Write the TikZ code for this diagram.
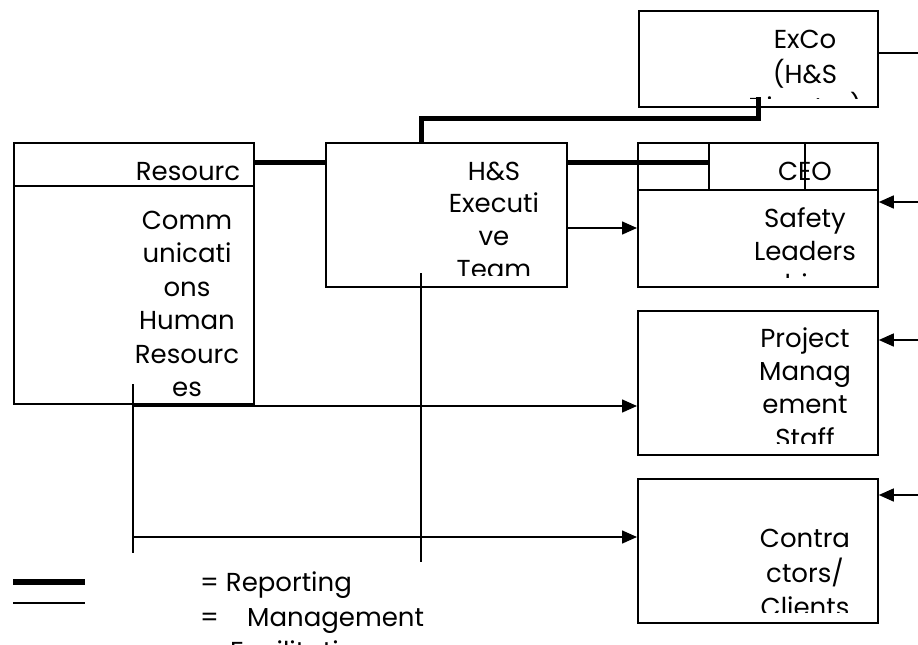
\documentclass[tikz,border=0pt]{standalone}
\usepackage{fontspec}
\setmainfont{Poppins}
\usetikzlibrary{arrows.meta}
\begin{document}
\begin{tikzpicture}[x=1pt,y=-1pt,
  box/.style={draw, line width=1.8pt, inner sep=0pt, anchor=north west},
  rule/.style={line width=1.8pt},
  txt/.style={inner sep=0pt, align=center, anchor=north},
  word/.style={inner sep=0pt, anchor=base},
  legend/.style={inner sep=0pt, anchor=base west, font=\fontsize{26}{33}\selectfont},
  report/.style={line width=5pt, line join=miter},
  manage/.style={line width=1.5pt},
  tip/.style={-{Triangle[length=15pt,width=13pt]}}]
\useasboundingbox (0,0) rectangle (918,645);
\fontsize{26}{33}\selectfont

% ---------- boxes ----------
\node[box, minimum width=239pt, minimum height=96pt]  (exco) at (638,10)  {};
\node[box, minimum width=240pt, minimum height=261pt] (res)  at (13,142)  {};
\node[box, minimum width=241pt, minimum height=144pt] (hse)  at (325,142) {};
\node[box, minimum width=240pt, minimum height=144pt] (ceo)  at (637,142) {};
\node[box, minimum width=240pt, minimum height=144pt] (pm)   at (637,310) {};
\node[box, minimum width=240pt, minimum height=144pt] (cc)   at (637,478) {};

% header rows
\draw[rule] ([yshift=-44pt]res.north west) -- ([yshift=-44pt]res.north east);
\draw[rule] ([yshift=-48pt]ceo.north west) -- ([yshift=-48pt]ceo.north east);
\coordinate (ceoA) at (709,142);
\coordinate (ceoB) at (805,142);
\draw[rule] (ceoA) -- (ceoA |- 0,190);
\draw[rule] (ceoB) -- (ceoB |- 0,190);

% ---------- texts (clipped to their frames) ----------
\begin{scope}
  \clip (640,12) rectangle (875,98);
  \node[txt, font=\fontsize{26}{33}\selectfont] (excoT) at (805,24.9)
    {\strut ExCo\\(H\&S\\Director)};
\end{scope}

\node[word] (resHead) at (188,180) {Resourc};
\node[txt, font=\fontsize{26}{33.5}\selectfont] (resT) at (187,205.55)
  {\strut Comm\\unicati\\ons\\Human\\Resourc\\es};

\begin{scope}
  \clip (327,144) rectangle (564,275);
  \node[txt, font=\fontsize{26}{32.7}\selectfont] (hseT) at (494,157.1)
    {\strut H\&S\\Executi\\ve\\Team};
\end{scope}

\node[word] (ceoT) at (805,180) {CEO};
\begin{scope}
  \clip (639,192) rectangle (875,277);
  \node[txt, font=\fontsize{26}{33}\selectfont] (slT) at (805,203.9)
    {\strut Safety\\Leaders\\hip};
\end{scope}

\begin{scope}
  \clip (639,312) rectangle (875,443);
  \node[txt, font=\fontsize{26}{33.3}\selectfont] (pmT) at (805,323.7)
    {\strut Project\\Manag\\ement\\Staff};
\end{scope}

\begin{scope}
  \clip (639,480) rectangle (875,612);
  \node[txt, font=\fontsize{26}{33.5}\selectfont] (ccT) at (805,523.55)
    {\strut Contra\\ctors/\\Clients};
\end{scope}

% ---------- reporting lines ----------
\coordinate (excoIn) at (758,97);
\draw[report] (res.east |- 0,162) -- (hse.west |- 0,162);
\draw[report] (hse.east |- 0,162) -- (ceoA |- 0,162);
\draw[report] (hse.north -| 421,0) -- (421,118) -- (excoIn |- 0,118) -- (excoIn);

% ---------- management / facilitation lines ----------
\coordinate (hseDrop) at (421,273);
\coordinate (resDrop) at (133,384);
\draw[manage] (hseDrop) -- (hseDrop |- 0,562);
\draw[manage] (resDrop) -- (resDrop |- 0,553);
\draw[manage, tip] (hse.east |- 0,228) -- (ceo.west |- 0,228);
\draw[manage, tip] (resDrop |- 0,406) -- (pm.west |- 0,406);
\draw[manage, tip] (resDrop |- 0,537) -- (cc.west |- 0,537);

% lines coming in from the right
\coordinate (rim) at (918,0);
\draw[manage] (exco.east |- 0,53) -- (rim |- 0,53);
\draw[manage, tip] (rim |- 0,202) -- (ceo.east |- 0,202);
\draw[manage, tip] (rim |- 0,340) -- (pm.east |- 0,340);
\draw[manage, tip] (rim |- 0,495) -- (cc.east |- 0,495);

% ---------- legend ----------
\coordinate (keyA) at (13,582);
\coordinate (keyB) at (13,603);
\draw[line width=6pt] (keyA) -- ++(72,0);
\draw[line width=1.8pt] (keyB) -- ++(72,0);
\node[legend] (legRep) at (200,591) {= Reporting};
\node[legend] (legMan) at (200,626) {\makebox[47pt][l]{=}Management};
\node[legend] (legFac) at (200,660) {\makebox[30pt][l]{=}Facilitation};
\end{tikzpicture}
\end{document}
